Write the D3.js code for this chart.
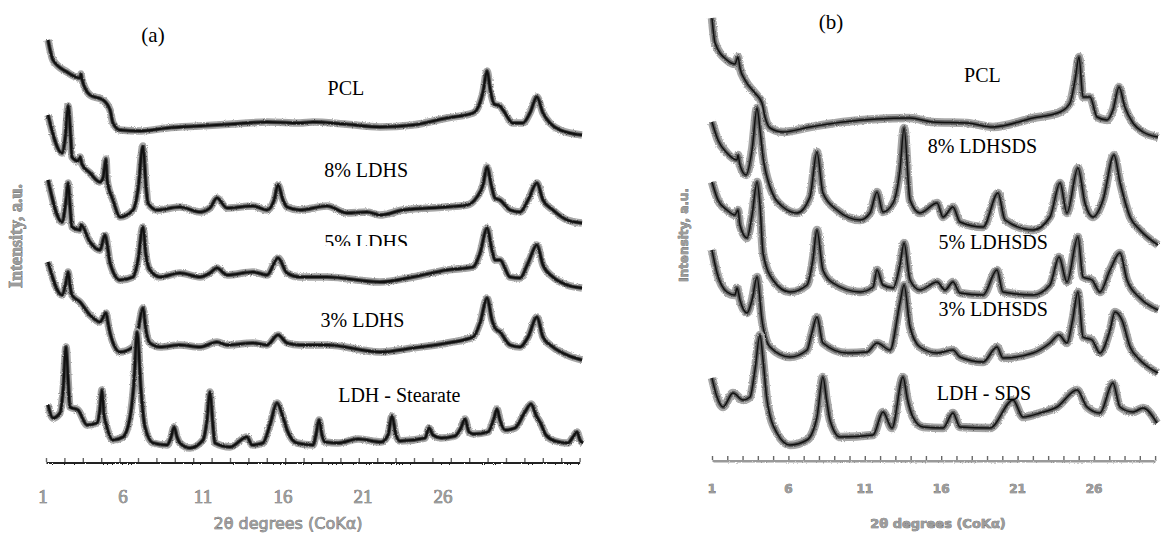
<!DOCTYPE html>
<html>
<head>
<meta charset="utf-8">
<script src="https://cdn.jsdelivr.net/npm/d3@7/dist/d3.min.js"></script>
<style>
  body { margin: 0; background: #fff; }
  .tag { font-family: "Liberation Serif", serif; font-size: 20px; fill: #000; }
  .gray-txt { fill: #9c9c9c; stroke: #555; stroke-width: 0.6px; paint-order: stroke; }
</style>
</head>
<body>
<div id="chart"></div>
<script>
// 2theta tick labels (CoKa)
const tickLabels = [1, 6, 11, 16, 21, 26];
const namesA = ["PCL", "8% LDHS", "5% LDHS", "3% LDHS", "LDH - Stearate"];
const namesB = ["PCL", "8% LDHSDS", "5% LDHSDS", "3% LDHSDS", "LDH - SDS"];

// panel (a) traces: [2theta, intensity a.u. (stacked)]
const aPCL = [[1.11,422],[1.38,402],[2.14,390],[2.85,384],[2.9,388],[2.95,383],[3.39,367],[4.1,362],[4.48,352],[4.64,339],[5.02,332],[6.11,331],[7.58,334],[9.37,336],[11.16,338],[13.01,340],[14.8,339],[15.51,340],[17.2,338],[19.15,335],[20.95,337],[22.79,344],[24.21,349],[24.4,352],[24.75,370],[24.97,391],[25.15,372],[25.35,358],[25.67,356],[25.84,352],[26.38,339],[26.92,339],[27.3,349],[27.68,365],[28.01,349],[28.39,339],[28.93,332],[30.13,327]];
const a8 = [[1.11,347],[1.87,309],[2.05,325],[2.2,356],[2.35,322],[2.41,305],[2.74,301],[2.85,305],[2.95,298],[3.39,289],[3.93,280],[4.1,284],[4.26,303],[4.32,282],[4.64,262],[5.02,245],[5.73,252],[6.0,272],[6.27,316],[6.43,277],[6.54,259],[7.03,252],[8.28,255],[9.37,250],[9.91,254],[10.29,264],[10.84,254],[12.25,256],[13.01,252],[13.4,262],[13.61,277],[13.88,262],[14.1,255],[14.8,252],[16.27,256],[17.36,249],[18.45,250],[19.15,247],[20.4,252],[21.87,254],[23.88,257],[24.42,265],[24.75,277],[24.97,295],[25.2,277],[25.4,264],[25.67,262],[26.22,252],[26.76,250],[27.2,262],[27.68,279],[28.01,262],[28.55,252],[29.32,242],[30.13,239]];
const a5 = [[1.11,282],[1.87,240],[2.09,262],[2.2,279],[2.3,257],[2.41,235],[2.85,232],[2.9,237],[3.39,220],[3.93,212],[4.21,227],[4.37,212],[4.48,199],[5.02,182],[5.73,185],[6.0,202],[6.27,235],[6.43,207],[6.65,192],[7.2,185],[8.28,189],[9.37,185],[9.91,189],[10.29,194],[10.84,187],[12.25,190],[13.01,187],[13.61,204],[14.1,189],[14.8,185],[16.27,185],[19.15,180],[20.95,185],[22.79,192],[24.21,195],[24.59,209],[24.97,234],[25.24,212],[25.4,202],[25.67,202],[26.22,185],[26.76,184],[27.2,199],[27.68,217],[28.01,197],[28.55,185],[29.32,177],[30.13,174]];
const a3 = [[1.11,200],[1.87,167],[2.09,180],[2.2,190],[2.3,177],[2.41,167],[2.85,160],[3.39,147],[3.93,140],[4.26,149],[4.37,139],[4.48,129],[5.02,110],[5.73,115],[6.0,132],[6.27,154],[6.43,132],[6.65,119],[7.2,115],[8.28,117],[9.37,115],[10.29,120],[10.84,117],[12.25,119],[13.01,117],[13.61,127],[14.1,119],[14.8,117],[16.27,117],[19.15,110],[20.95,114],[22.79,119],[24.21,125],[24.59,139],[24.97,164],[25.24,142],[25.4,134],[25.67,130],[26.22,117],[26.76,115],[27.2,125],[27.68,145],[28.01,125],[28.55,115],[29.32,107],[30.13,102]];
const aStearate = [[1.11,57],[1.38,44],[1.76,49],[1.93,72],[2.09,115],[2.2,82],[2.3,55],[2.74,52],[3.23,37],[3.77,39],[3.93,52],[4.04,72],[4.15,47],[4.21,42],[4.64,22],[5.18,25],[5.57,45],[5.79,82],[5.95,130],[6.16,72],[6.38,35],[6.82,19],[7.58,17],[7.8,25],[7.96,35],[8.12,25],[8.28,19],[8.83,14],[9.53,22],[9.75,42],[9.91,70],[10.07,37],[10.18,19],[11.0,15],[11.92,25],[12.2,17],[12.79,19],[13.17,37],[13.55,59],[13.88,45],[14.1,32],[14.64,19],[15.51,17],[15.67,27],[15.84,42],[16.0,27],[16.16,20],[16.87,19],[17.96,23],[19.21,20],[19.59,27],[19.8,46],[20.02,27],[20.24,21],[21.6,24],[21.82,34],[22.03,27],[22.47,24],[23.23,26],[23.55,34],[23.77,43],[23.99,30],[24.26,28],[25.02,30],[25.35,44],[25.51,53],[25.67,42],[25.95,32],[26.49,34],[27.03,50],[27.36,58],[27.63,47],[27.9,38],[28.17,27],[28.66,21],[29.37,19],[29.64,25],[29.86,30],[30.02,22],[30.18,19]];

// panel (b) traces
const bPCL = [[1.0,442],[1.2,417],[1.98,400],[2.5,396],[2.7,403],[2.83,392],[3.16,380],[3.81,367],[4.27,357],[4.47,343],[4.8,332],[5.65,328],[7.41,333],[9.57,338],[11.8,341],[13.96,342],[15.46,338],[17.69,337],[19.39,333],[22.01,342],[23.78,348],[24.43,357],[24.76,380],[25.02,403],[25.28,363],[25.74,363],[26.2,343],[26.85,340],[27.24,350],[27.64,373],[28.02,353],[28.55,337],[29.21,328],[30.19,323]];
const b8 = [[1.0,338],[1.39,320],[1.98,307],[2.64,300],[2.7,305],[2.83,295],[3.23,285],[3.62,310],[3.95,352],[4.14,330],[4.34,303],[4.8,273],[5.65,253],[6.56,247],[7.41,263],[7.87,308],[8.26,267],[9.18,250],[10.69,240],[11.34,247],[11.8,268],[12.19,248],[12.85,257],[13.3,290],[13.57,332],[13.96,260],[14.61,247],[15.73,257],[16.12,243],[16.77,253],[17.23,238],[18.74,233],[19.72,267],[20.18,240],[22.01,230],[23.12,243],[23.78,277],[24.23,247],[24.95,292],[25.41,257],[25.93,243],[26.59,260],[27.31,305],[27.7,278],[28.36,243],[29.01,230],[30.19,215]];
const b5 = [[1.0,278],[1.39,260],[1.98,250],[2.5,245],[2.7,250],[2.83,235],[3.29,222],[3.62,245],[3.95,278],[4.14,255],[4.34,207],[4.99,180],[6.1,168],[7.22,175],[7.6,200],[7.87,230],[8.26,190],[8.92,177],[10.69,168],[11.54,173],[11.8,190],[12.19,175],[12.85,172],[13.3,195],[13.57,217],[13.96,180],[14.61,170],[15.73,178],[16.25,170],[16.77,178],[17.23,167],[18.74,165],[19.65,190],[20.04,168],[22.01,165],[23.12,175],[23.71,203],[24.23,178],[24.95,223],[25.28,183],[25.87,180],[26.39,168],[27.05,190],[27.7,207],[28.16,180],[29.01,162],[30.19,150]];
const b3 = [[1.0,210],[1.33,187],[1.98,168],[2.5,165],[2.64,172],[2.83,160],[3.29,147],[3.62,160],[3.95,183],[4.27,140],[4.8,113],[6.1,103],[7.22,110],[7.5,125],[7.87,143],[8.26,117],[9.84,107],[11.14,108],[11.8,117],[12.65,110],[13.3,157],[13.57,175],[13.96,133],[14.61,113],[15.73,107],[16.77,110],[17.23,103],[18.74,98],[19.65,113],[20.04,102],[22.01,107],[23.12,117],[23.71,125],[24.23,117],[24.6,140],[24.95,168],[25.28,123],[25.87,120],[26.39,107],[27.05,130],[27.37,148],[27.83,140],[28.36,113],[29.01,100],[30.19,87]];
const bSDS = [[1.0,82],[1.33,63],[1.72,53],[2.37,67],[3.03,60],[3.49,63],[3.81,90],[4.14,125],[4.34,100],[4.6,60],[5.25,27],[6.1,15],[7.22,20],[7.87,43],[8.26,83],[8.5,60],[8.72,40],[9.38,23],[11.54,25],[12.19,48],[12.78,32],[13.5,83],[13.8,60],[14.15,43],[14.81,33],[16.12,32],[16.77,47],[17.23,33],[19.19,32],[20.7,60],[21.35,43],[22.47,47],[23.58,53],[24.89,70],[25.54,53],[26.39,47],[27.24,77],[27.7,53],[28.55,48],[29.21,52],[30.12,37]];

class XrdPanel {

    constructor(opts) {
        this.svg = opts.svg;
        this.series = opts.series;
        this.names = opts.names;
        this.namePos = opts.namePos;   // [2theta, a.u.] anchor for each trace label
        this.xRange = opts.xRange;
        this.labelRange = opts.labelRange; // where the printed numbers sit (they drift from the ticks in (a))
        this.axisY = opts.axisY;
        this.style = opts.style;
        this.create();
    }

    create(){
        const st = this.style;
        this.x = d3.scaleLinear().domain([1, 30]).range(this.xRange);
        this.y = d3.scaleLinear().domain([0, 450]).range([this.axisY, this.axisY - 450]);
        const xl = this.labelRange
            ? d3.scaleLinear().domain([1, 26]).range(this.labelRange)
            : this.x;

        const g = this.svg.append('g');
        const line = d3.line()
            .x(d => this.x(d[0]))
            .y(d => this.y(d[1]))
            .curve(d3.curveMonotoneX);

        // axis: small ticks pointing up, thick base line
        const ax = g.append('g')
            .attr('transform', `translate(0,${this.axisY})`)
            .call(d3.axisBottom(this.x).tickValues(d3.range(1, 31)).tickSize(-st.tick).tickSizeOuter(0).tickFormat(''));
        ax.select('.domain').attr('stroke', st.axisColor).attr('stroke-width', st.axisWidth)
            .attr('filter', 'url(#grain)');
        ax.selectAll('.tick line').attr('stroke', '#666').attr('stroke-width', 1.4);

        g.selectAll('text.tl').data(tickLabels).join('text')
            .attr('class', 'tl gray-txt')
            .attr('x', d => xl(d))
            .attr('y', this.axisY + st.tickLabelDy)
            .attr('text-anchor', 'middle')
            .style('font-family', st.tickFont)
            .style('font-size', st.tickSize + 'px')
            .style('font-weight', st.tickWeight)
            .text(d => d);

        // traces, drawn in layers: speckled halo, mid grey, dark core
        this.series.forEach(s => {
            g.append('path').attr('d', line(s)).attr('fill', 'none')
                .attr('stroke', st.halo).attr('stroke-width', st.haloW)
                .attr('stroke-linejoin', 'round').attr('filter', 'url(#grain)');
            g.append('path').attr('d', line(s)).attr('fill', 'none')
                .attr('stroke', st.mid).attr('stroke-width', st.midW)
                .attr('stroke-linejoin', 'round').attr('filter', 'url(#grain)');
            g.append('path').attr('d', line(s)).attr('fill', 'none')
                .attr('stroke', '#111').attr('stroke-width', st.coreW)
                .attr('stroke-linejoin', 'round');
        });

        this.names.forEach((n, i) => {
            const t = g.append('text').attr('class', 'tag')
                .attr('x', this.x(this.namePos[i][0]))
                .attr('y', this.y(this.namePos[i][1]))
                .attr('text-anchor', 'middle')
                .text(n);
            if (st.clipName === i) t.attr('clip-path', 'url(#cutA)');
        });
    }
}

const svg = d3.select('#chart').append('svg').attr('width', 1161).attr('height', 545);
const defs = svg.append('defs');
const f = defs.append('filter').attr('id', 'grain')
    .attr('filterUnits', 'userSpaceOnUse').attr('x', 0).attr('y', 0).attr('width', 1161).attr('height', 545);
f.append('feTurbulence').attr('type', 'fractalNoise').attr('baseFrequency', 0.9).attr('numOctaves', 2).attr('seed', 4).attr('result', 'noise');
f.append('feDisplacementMap').attr('in', 'SourceGraphic').attr('in2', 'noise').attr('scale', 2.6)
    .attr('xChannelSelector', 'R').attr('yChannelSelector', 'G');
// the "5% LDHS" label is cut off at its bottom in the original
defs.append('clipPath').attr('id', 'cutA').append('rect').attr('x', 0).attr('y', 0).attr('width', 600).attr('height', 246);

new XrdPanel({
    svg: svg,
    series: [aPCL, a8, a5, a3, aStearate],
    names: namesA,
    namePos: [[17.3, 367], [18.4, 285], [18.4, 213], [18.2, 135], [20.2, 60]],
    xRange: [46, 579.6],
    labelRange: [43, 443],
    axisY: 462,
    style: {halo: '#a6a6a6', haloW: 7.5, mid: '#4a4a4a', midW: 4, coreW: 2.2, tick: 4,
            axisColor: '#222', axisWidth: 3, tickLabelDy: 41, tickFont: '"Liberation Serif", serif',
            tickSize: 19, tickWeight: 'normal', clipName: 2}
});

new XrdPanel({
    svg: svg,
    series: [bPCL, b8, b5, b3, bSDS],
    names: namesB,
    namePos: [[18.7, 378], [18.7, 307], [19.4, 211], [19.4, 144], [18.8, 60]],
    xRange: [712, 1155.1],
    axisY: 460,
    style: {halo: '#a8a8a8', haloW: 8.5, mid: '#5e5e5e', midW: 4.4, coreW: 1.5, tick: 4,
            axisColor: '#999', axisWidth: 4, tickLabelDy: 33, tickFont: '"DejaVu Sans", sans-serif',
            tickSize: 12, tickWeight: 'bold', clipName: -1}
});

// panel tags, axis titles
svg.append('text').attr('class', 'tag').attr('x', 153).attr('y', 42).attr('text-anchor', 'middle')
    .style('font-size', '21px').text('(a)');
svg.append('text').attr('class', 'tag').attr('x', 831).attr('y', 29).attr('text-anchor', 'middle')
    .style('font-size', '21px').text('(b)');

svg.append('text').attr('class', 'gray-txt').attr('x', 288).attr('y', 529).attr('text-anchor', 'middle')
    .style('font-family', '"DejaVu Sans", sans-serif').style('font-size', '16px').text('2θ degrees (CoKα)');
svg.append('text').attr('class', 'gray-txt').attr('x', 938).attr('y', 528).attr('text-anchor', 'middle')
    .style('font-family', '"DejaVu Sans", sans-serif').style('font-size', '13px').style('font-weight', 'bold')
    .text('2θ degrees (CoKα)');

svg.append('text').attr('class', 'gray-txt').attr('transform', 'translate(22,236) rotate(-90)').attr('text-anchor', 'middle')
    .style('font-family', '"Liberation Serif", serif').style('font-size', '18px').style('font-weight', 'bold')
    .text('Intensity, a.u.');
svg.append('text').attr('class', 'gray-txt').attr('transform', 'translate(688,235) rotate(-90)').attr('text-anchor', 'middle')
    .style('font-family', '"DejaVu Sans", sans-serif').style('font-size', '12px').style('font-weight', 'bold').text('Intensity, a.u.');
</script>
</body>
</html>
